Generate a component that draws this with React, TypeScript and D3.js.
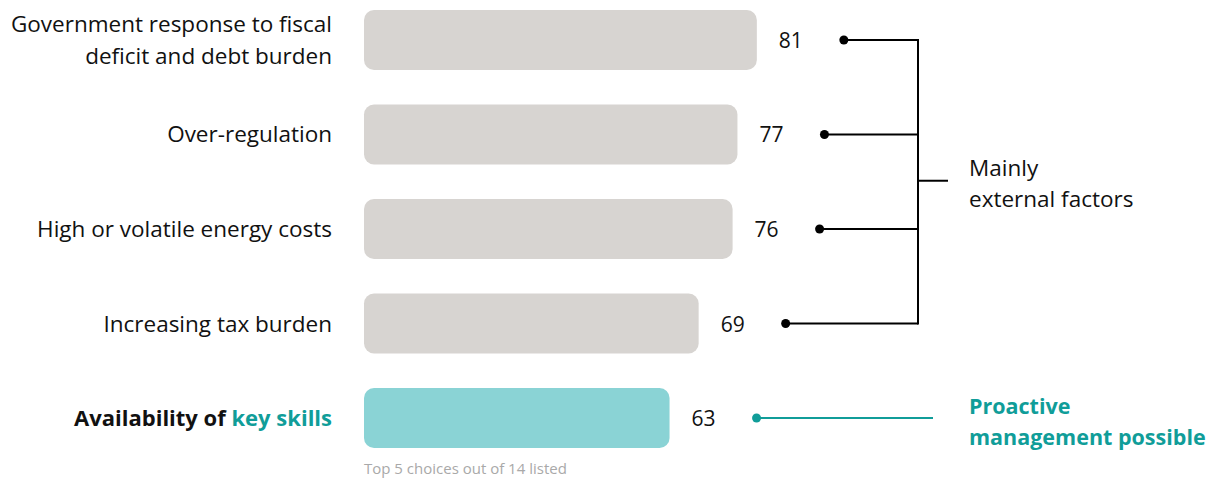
import { useRef, useEffect } from "react";
import * as d3 from "d3";

const categories = [
  "Government response to fiscal\ndeficit and debt burden",
  "Over-regulation",
  "High or volatile energy costs",
  "Increasing tax burden",
  "Availability of key skills",
];
const values = [81, 77, 76, 69, 63];
const groupLabels = ["Mainly\nexternal factors", "Proactive\nmanagement possible"];
const footnote = "Top 5 choices out of 14 listed";

const WIDTH = 1213;
const HEIGHT = 478;
const FONT = "'Open Sans', 'Noto Sans', sans-serif";
const GREY = "#d7d4d1";
const TEAL_BAR = "#8ad3d5";
const TEAL = "#109d99";

export default function App() {
  const svgRef = useRef<SVGSVGElement>(null);

  useEffect(() => {
    if (!svgRef.current) return;
    const svg = d3.select(svgRef.current);
    svg.selectAll("*").remove();

    const x = d3.scaleLinear().domain([0, 100]).range([364, 849]);
    const y = d3
      .scaleBand<number>()
      .domain(d3.range(categories.length))
      .range([0.5, 457.5])
      .paddingInner(0.365)
      .paddingOuter(0.1);

    const last = categories.length - 1;

    // bars
    svg.selectAll("rect.bar")
      .data(values)
      .join("rect")
      .attr("class", "bar")
      .attr("x", x(0))
      .attr("y", (_d, i) => y(i)!)
      .attr("width", (d) => x(d) - x(0))
      .attr("height", y.bandwidth())
      .attr("rx", 10)
      .attr("fill", (_d, i) => (i === last ? TEAL_BAR : GREY));

    // category labels
    categories.forEach((c, i) => {
      const cy = y(i)! + y.bandwidth() / 2;
      const lines = c.split("\n");
      const t = svg.append("text")
        .attr("x", 332)
        .attr("text-anchor", "end")
        .attr("font-family", FONT)
        .attr("font-size", 22.5)
        .attr("fill", "#111");
      if (i === last) {
        t.attr("y", cy + 8).attr("font-weight", 700).attr("font-size", 22);
        t.append("tspan").text("Availability of ");
        t.append("tspan").attr("fill", TEAL).text("key skills");
      } else {
        lines.forEach((l, j) => {
          t.append("tspan")
            .attr("x", 332)
            .attr("y", cy + 8 + (j - (lines.length - 1) / 2) * 32)
            .text(l);
        });
      }
    });

    // value labels
    svg.selectAll("text.val")
      .data(values)
      .join("text")
      .attr("class", "val")
      .attr("x", (d) => x(d) + 22)
      .attr("y", (_d, i) => y(i)! + y.bandwidth() / 2 + 8)
      .attr("font-family", FONT)
      .attr("font-size", 21)
      .attr("fill", "#111")
      .text((d) => d);

    // connector lines + dots
    const bracketX = 918;
    const dotX = (d: number) => x(d) + 87;
    values.forEach((d, i) => {
      const cy = y(i)! + y.bandwidth() / 2;
      const color = i === last ? TEAL : "#000";
      const endX = i === last ? 933 : bracketX;
      svg.append("line")
        .attr("x1", dotX(d)).attr("x2", endX)
        .attr("y1", cy).attr("y2", cy)
        .attr("stroke", color).attr("stroke-width", 2);
      svg.append("circle")
        .attr("cx", dotX(d)).attr("cy", cy).attr("r", 4.5)
        .attr("fill", color);
    });

    const topY = y(0)! + y.bandwidth() / 2;
    const botY = y(last - 1)! + y.bandwidth() / 2;
    svg.append("line")
      .attr("x1", bracketX).attr("x2", bracketX)
      .attr("y1", topY - 1).attr("y2", botY + 1)
      .attr("stroke", "#000").attr("stroke-width", 2);
    const midY = (topY + botY) / 2 - 1;
    svg.append("line")
      .attr("x1", bracketX).attr("x2", 948)
      .attr("y1", midY).attr("y2", midY)
      .attr("stroke", "#000").attr("stroke-width", 2);

    // group labels
    const g1 = svg.append("text")
      .attr("font-family", FONT).attr("font-size", 22.5).attr("fill", "#111");
    groupLabels[0].split("\n").forEach((l, j) => {
      g1.append("tspan").attr("x", 969).attr("y", midY - 5 + j * 31).text(l);
    });
    const lastY = y(last)! + y.bandwidth() / 2;
    const g2 = svg.append("text")
      .attr("font-family", FONT).attr("font-size", 21.5)
      .attr("font-weight", 700).attr("fill", TEAL);
    groupLabels[1].split("\n").forEach((l, j) => {
      g2.append("tspan").attr("x", 969).attr("y", lastY - 4 + j * 31).text(l);
    });

    // footnote
    svg.append("text")
      .attr("x", x(0))
      .attr("y", 474)
      .attr("font-family", FONT)
      .attr("font-size", 15)
      .attr("fill", "#a9a9a9")
      .text(footnote);
  }, []);

  return (
    <div style={{ position: "absolute", left: 0, top: 0 }}>
      <svg ref={svgRef} width={WIDTH} height={HEIGHT} viewBox={`0 0 ${WIDTH} ${HEIGHT}`} />
    </div>
  );
}
